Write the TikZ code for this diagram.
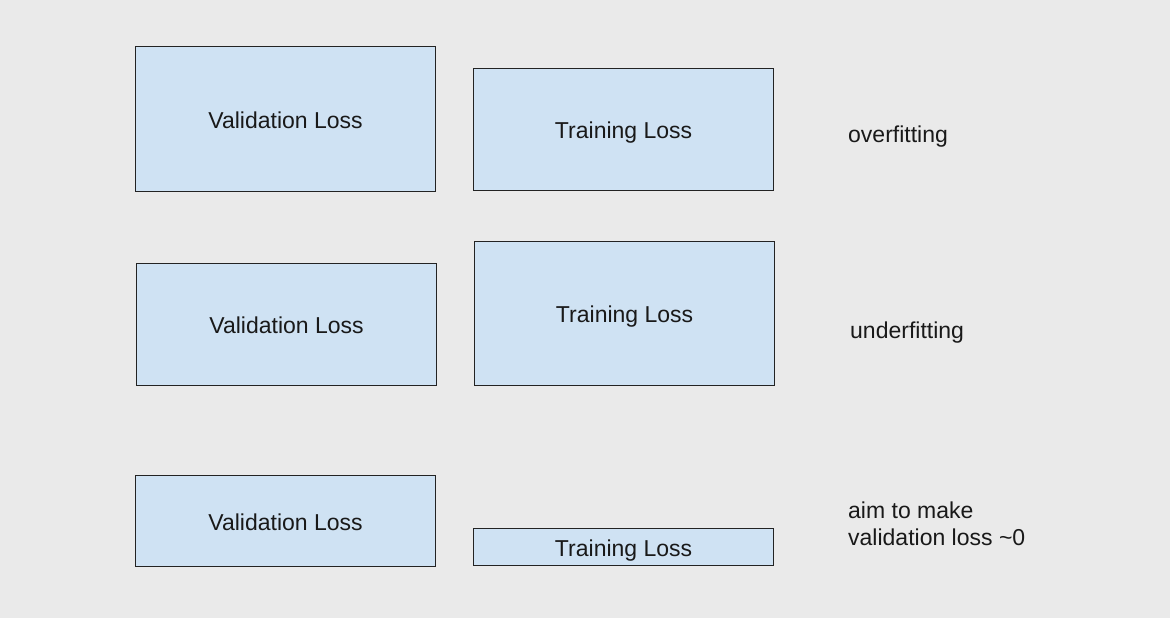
\documentclass[tikz,border=0pt]{standalone}
\usepackage{fontspec}
\setmainfont{Liberation Sans}
\definecolor{bgc}{RGB}{234,234,234}
\definecolor{boxfill}{RGB}{207,226,243}
\definecolor{boxline}{RGB}{35,35,35}
\definecolor{txt}{RGB}{25,25,25}
\begin{document}
\begin{tikzpicture}[x=1pt,y=1pt,
  lossbox/.style={draw=boxline, fill=boxfill, line width=1.2pt, rectangle, inner sep=0pt,
    minimum width=300pt, anchor=north west, text=txt,
    text height=18.5pt, text depth=0pt,
    font=\fontsize{23}{27}\selectfont},
  note/.style={anchor=west, align=left, inner sep=0pt, text=txt,
    font=\fontsize{23}{27}\selectfont}]
\fill[bgc] (0,0) rectangle (1170,-618);
\useasboundingbox (0,0) rectangle (1170,-618);
% row 1
\node[lossbox, minimum height=145pt] (v1) at (135,-46) {Validation Loss};
\node[lossbox, minimum height=122pt] (t1) at (473,-68) {Training Loss};
\node[note] (n1) at (848,-137) {overfitting};
% row 2
\node[lossbox, minimum height=122pt] (v2) at (136,-263) {Validation Loss};
\node[lossbox, minimum height=144pt] (t2) at (474,-241) {Training Loss};
\node[note] (n2) at (850,-333) {underfitting};
% row 3
\node[lossbox, minimum height=91pt] (v3) at (135,-475) {Validation Loss};
\node[lossbox, minimum height=37pt] (t3) at (473,-528) {Training Loss};
\node[note] (n3) at (848,-523.5) {aim to make\\validation loss \textasciitilde0};
\end{tikzpicture}
\end{document}
